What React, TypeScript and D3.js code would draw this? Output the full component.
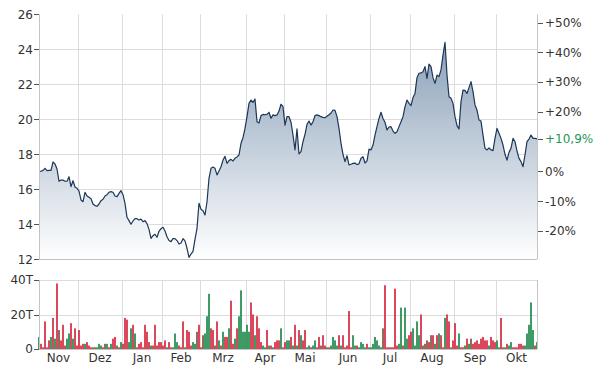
import React from 'react';
import * as d3 from 'd3';

const months = ['Nov', 'Dez', 'Jan', 'Feb', 'Mrz', 'Apr', 'Mai', 'Jun', 'Jul', 'Aug', 'Sep', 'Okt'];
const monthStart = [0, 20, 42, 62, 81, 104, 123, 144, 166, 186, 208, 229];
const priceTicks = [12, 14, 16, 18, 20, 22, 24, 26];
const pctTicks = [50, 40, 30, 20, 0, -10, -20];
const volTicks = [0, 20, 40];

const prices = [
  17.02, 17.03, 17.08, 17.2, 17.07, 17.08, 17.08, 17.56, 17.45, 17.16,
  16.46, 16.53, 16.53, 16.46, 16.46, 16.72, 16.15, 16.49, 16.13, 16.06,
  15.9, 15.39, 15.29, 15.83, 15.62, 15.54, 15.46, 15.16, 15.07, 15.03,
  15.16, 15.35, 15.43, 15.62, 15.69, 15.83, 15.87, 15.83, 15.62, 15.58,
  15.77, 15.92, 15.69, 15.2, 14.4, 14.21, 14.0, 14.19, 14.32, 14.32,
  14.25, 14.3, 14.15, 14.21, 14.04, 13.71, 13.2, 13.35, 13.43, 13.26,
  13.6, 13.75, 13.83, 13.62, 13.29, 13.07, 13.01, 13.18, 13.18, 13.07,
  12.87, 12.93, 13.18, 13.05, 12.63, 12.11, 12.3, 12.45, 13.14, 13.77,
  15.2, 14.86, 14.78, 14.53, 15.29, 16.63, 17.2, 17.27, 17.2, 16.82,
  17.05, 17.29, 17.67, 17.88, 17.48, 17.64, 17.71, 17.62, 17.77, 17.85,
  17.96, 18.63, 18.95, 19.48, 20.15, 20.91, 21.1, 20.97, 21.16, 19.86,
  19.79, 20.21, 20.28, 20.26, 20.28, 20.4, 20.06, 20.25, 20.21, 20.25,
  20.47, 20.86, 20.72, 19.67, 20.15, 20.15, 19.83, 19.1, 18.25, 19.45,
  18.02, 18.15, 18.72, 19.14, 19.71, 19.9, 19.67, 19.86, 20.21, 20.25,
  20.21, 20.15, 20.11, 20.09, 20.17, 20.26, 20.36, 20.53, 20.51, 20.15,
  19.48, 18.63, 18.0, 17.58, 17.92, 17.39, 17.43, 17.48, 17.5, 17.41,
  17.46, 17.77, 17.86, 17.5, 17.62, 18.3, 18.25, 18.53, 19.1, 19.58,
  20.05, 20.4, 20.05, 19.83, 19.39, 19.56, 19.58, 19.33, 19.2, 19.29,
  19.58, 19.86, 20.15, 20.72, 21.1, 20.91, 20.78, 21.24, 21.48, 22.38,
  22.63, 22.65, 22.72, 23.01, 22.34, 23.16, 23.01, 22.38, 22.05, 22.53,
  22.44, 22.82, 23.67, 24.4, 22.53, 21.29, 21.2, 20.91, 20.15, 19.64,
  19.45, 21.01, 21.67, 21.65, 21.48, 21.81, 22.15, 21.58, 20.82, 20.53,
  19.96, 19.9, 19.1, 18.34, 18.25, 18.36, 18.25, 18.21, 18.91, 19.48,
  19.2, 18.91, 18.53, 18.0, 17.67, 18.11, 18.34, 18.91, 18.72, 18.19,
  17.77, 17.58, 17.29, 17.96, 18.72, 18.87, 19.1, 18.91, 18.91, 18.88,
];

// volume in thousands, per month
const volNov = [7, 3, 1, 16, 1, 5, 7, 18, 6, 38, 11, 5, 14, 2, 6, 9, 15, 6, 12, 2];
const volDez = [11, 2, 3, 3, 4, 2, 1, 1, 1, 1, 3, 2, 1, 3, 3, 1, 3, 6, 7, 2, 1];
const volJan = [4, 3, 18, 17, 4, 12, 14, 9, 1, 3, 4, 1, 14, 10, 4, 2, 2, 14, 2, 4];
const volFeb = [4, 2, 5, 1, 4, 1, 1, 9, 4, 2, 1, 16, 1, 11, 10, 2, 4, 3, 10];
const volMrz = [14, 1, 8, 9, 19, 32, 12, 11, 2, 16, 5, 2, 10, 7, 7, 12, 28, 3, 6, 12, 19, 34, 10];
const volApr = [10, 14, 10, 27, 20, 8, 19, 12, 4, 2, 1, 11, 2, 2, 1, 4, 5, 5, 12];
const volMai = [1, 4, 5, 5, 7, 2, 14, 2, 11, 8, 5, 11, 1, 2, 1, 2, 5, 1, 7, 2, 8];
const volJun = [2, 1, 1, 2, 7, 5, 2, 8, 2, 8, 1, 2, 22, 1, 8, 2, 2, 1, 4, 3, 1, 3];
const volJul = [1, 1, 3, 7, 5, 2, 1, 12, 37, 1, 1, 1, 1, 35, 2, 3, 24, 2, 24, 6];
const volAug = [8, 10, 12, 2, 16, 8, 20, 2, 3, 5, 4, 8, 8, 3, 8, 9, 8, 1, 18, 20, 16, 1];
const volSep = [5, 15, 2, 9, 1, 1, 2, 6, 3, 6, 3, 4, 5, 3, 6, 7, 5, 5, 2, 7, 5];
const volOkt = [4, 5, 1, 18, 1, 1, 3, 2, 4, 1, 1, 1, 3, 3, 2, 2, 9, 14, 27, 11, 2, 4];

// u = up day, d = down day, n = unchanged
const dirNov = 'udddddudud' + 'nddduududd';
const dirDez = 'dddudddudu' + 'uudnududdu' + 'd';
const dirJan = 'uddduududd' + 'dddddudddd';
const dirFeb = 'dddudduuud' + 'dduddduun';
const dirMrz = 'ddnuuuddnd' + 'ududduddud' + 'uuu';
const dirApr = 'uuuddudddu' + 'udududddu';
const dirMai = 'dduudududu' + 'dduuduuddnd';
const dirJun = 'duduuuudud' + 'dddduuduuu' + 'ud';
const dirJul = 'uuuuuuundd' + 'ddddduuduu';
const dirAug = 'dduuuudnnn' + 'dndududdud' + 'du';
const dirSep = 'ddduddudun' + 'ddddddddud' + 'd';
const dirOkt = 'duudduduud' + 'ddddduuuuu' + 'du';

const volume = [...volNov, ...volDez, ...volJan, ...volFeb, ...volMrz, ...volApr, ...volMai, ...volJun, ...volJul, ...volAug, ...volSep, ...volOkt];
const dirs = (dirNov + dirDez + dirJan + dirFeb + dirMrz + dirApr + dirMai + dirJun + dirJul + dirAug + dirSep + dirOkt).split('');

const W = 614;
const H = 374;
const L = 39;
const R = 537;
const PT = 14.3;
const PB = 259.3;
const VT = 280;
const VB = 349;

const FONT = 'DejaVu Sans, Verdana, sans-serif';
const TXT = '#333';
const GRID = '#dcdcdc';
const AXIS = '#c4c4c4';
const TICK = '#555';
const colorOf: Record<string, string> = { u: '#1f8a4d', d: '#d62a40', n: '#80533f' };

export default function App() {
  const n = prices.length;
  const x = d3.scaleLinear().domain([0, n - 1]).range([L, R]);
  const y = d3.scaleLinear().domain([12, 26]).range([PB, PT]);
  const yv = d3.scaleLinear().domain([0, 40]).range([VB, VT]);
  const base = prices[0];
  const yPct = (p: number) => y(base * (1 + p / 100));

  const line = d3.line<number>().x((_, i) => x(i)).y((d) => y(d));
  const area = d3.area<number>().x((_, i) => x(i)).y0(PB).y1((d) => y(d));

  const bounds = monthStart.slice(1).map((m) => Math.round(x(m - 0.5)) + 0.5);
  const edges = [L, ...monthStart.slice(1).map((m) => x(m - 0.5)), R];

  const last = prices[n - 1];
  const chg = (last / base - 1) * 100;
  const chgLabel = (chg >= 0 ? '+' : '') + chg.toFixed(1).replace('.', ',') + '%';
  const fmtPct = (p: number) => (p > 0 ? '+' : '') + p + '%';
  const bw = (x(1) - x(0)) * 0.85;

  return (
    <svg width={W} height={H} style={{ position: 'absolute', left: 0, top: 0, background: '#fff' }} fontFamily={FONT}>
      <defs>
        <linearGradient id="areaGrad" gradientUnits="userSpaceOnUse" x1="0" y1={PT} x2="0" y2={PB}>
          <stop offset="0" stopColor="#7c95b0" />
          <stop offset="1" stopColor="#ffffff" />
        </linearGradient>
      </defs>

      {/* price grid */}
      {priceTicks.filter((t) => t > 12 && t < 26).map((t) => (
        <line key={'pg' + t} x1={L} x2={R} y1={Math.round(y(t)) + 0.5} y2={Math.round(y(t)) + 0.5} stroke={GRID} />
      ))}
      {bounds.map((bx, i) => (
        <line key={'vg' + i} x1={bx} x2={bx} y1={PT} y2={PB} stroke={GRID} />
      ))}
      {/* volume grid */}
      {volTicks.filter((t) => t > 0).map((t) => (
        <line key={'vgh' + t} x1={L} x2={R} y1={Math.round(yv(t)) + 0.5} y2={Math.round(yv(t)) + 0.5} stroke={GRID} />
      ))}
      {bounds.map((bx, i) => (
        <line key={'vgv' + i} x1={bx} x2={bx} y1={VT} y2={VB} stroke={GRID} />
      ))}

      {/* price area + line */}
      <path d={area(prices) || ''} fill="url(#areaGrad)" />
      <path d={line(prices) || ''} fill="none" stroke="#1d3657" strokeWidth={1.2} strokeLinejoin="round" />

      {/* volume bars */}
      {volume.map((v, i) => (
        <rect key={'vb' + i} x={x(i) - bw / 2} y={yv(v)} width={bw} height={VB - yv(v)} fill={colorOf[dirs[i]] || colorOf.d} />
      ))}

      {/* axes frames */}
      <line x1={L + 0.5} x2={L + 0.5} y1={PT} y2={PB} stroke={AXIS} />
      <line x1={R + 0.5} x2={R + 0.5} y1={PT} y2={PB} stroke={AXIS} />
      <line x1={L} x2={R} y1={Math.round(PB) + 0.5} y2={Math.round(PB) + 0.5} stroke={AXIS} />
      <line x1={L + 0.5} x2={L + 0.5} y1={VT} y2={VB} stroke={AXIS} />
      <line x1={R + 0.5} x2={R + 0.5} y1={VT} y2={VB} stroke={AXIS} />
      <line x1={L} x2={R} y1={VB + 0.5} y2={VB + 0.5} stroke={AXIS} />

      {/* left price axis */}
      {priceTicks.map((t) => (
        <g key={'pl' + t}>
          <line x1={L - 5} x2={L} y1={Math.round(y(t)) + 0.5} y2={Math.round(y(t)) + 0.5} stroke={TICK} />
          <text x={L - 6} y={y(t)} dy="0.36em" textAnchor="end" fontSize={12} fill={TXT}>{t}</text>
        </g>
      ))}

      {/* right percent axis */}
      {pctTicks.map((p) => (
        <g key={'pr' + p}>
          <line x1={R + 1} x2={R + 6} y1={Math.round(yPct(p)) + 0.5} y2={Math.round(yPct(p)) + 0.5} stroke={TICK} />
          <text x={R + 8} y={yPct(p)} dy="0.36em" fontSize={12} fill={TXT}>{fmtPct(p)}</text>
        </g>
      ))}
      <line x1={R + 1} x2={R + 6} y1={Math.round(y(last)) + 0.5} y2={Math.round(y(last)) + 0.5} stroke={TICK} />
      <text x={R + 8} y={y(last)} dy="0.36em" fontSize={12} fill="#1e9655">{chgLabel}</text>

      {/* volume axis */}
      {volTicks.map((t) => (
        <g key={'vl' + t}>
          <line x1={L - 5} x2={L} y1={Math.round(yv(t)) + 0.5} y2={Math.round(yv(t)) + 0.5} stroke={TICK} />
          <text x={L - 6} y={yv(t)} dy="0.36em" textAnchor="end" fontSize={12} fill={TXT}>{t === 0 ? '0' : t + 'T'}</text>
        </g>
      ))}

      {/* month labels */}
      {months.map((m, i) => (
        <text key={'m' + m} x={(edges[i] + edges[i + 1]) / 2} y={362} textAnchor="middle" fontSize={12} fill={TXT}>{m}</text>
      ))}
    </svg>
  );
}
